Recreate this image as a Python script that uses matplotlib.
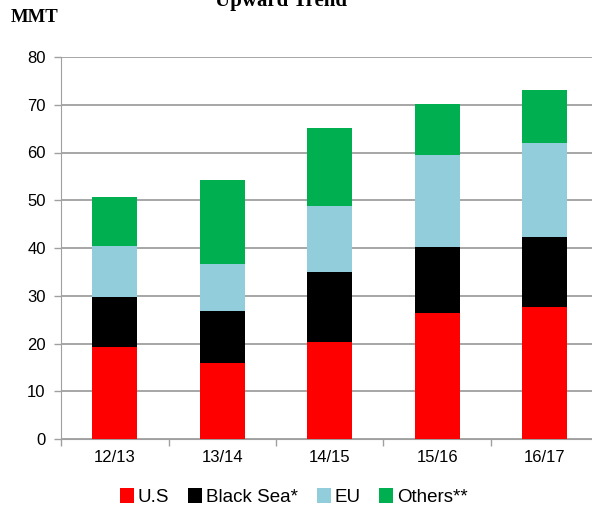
import matplotlib
matplotlib.use('Agg')
import matplotlib.pyplot as plt
import numpy as np

years = ['12/13', '13/14', '14/15', '15/16', '16/17']
us = [19.3, 15.9, 20.3, 26.4, 27.6]
black_sea = [10.4, 10.9, 14.7, 13.8, 14.7]
eu = [10.7, 9.8, 13.8, 19.3, 19.7]
others = [10.3, 17.6, 16.3, 10.7, 11.1]

series = [('U.S', us, '#ff0000'),
          ('Black Sea*', black_sea, '#000000'),
          ('EU', eu, '#92cddc'),
          ('Others**', others, '#00b050')]


def main():
    plt.rcParams['font.family'] = ['Liberation Sans', 'DejaVu Sans']
    fig = plt.figure(figsize=(5.92, 5.09), dpi=100)
    ax = fig.add_axes([61 / 592, 70 / 509, 537.5 / 592, 382 / 509])

    x = np.arange(len(years))
    bottom = np.zeros(len(years))
    for name, vals, color in series:
        ax.bar(x, vals, 0.42, bottom=bottom, color=color, label=name, zorder=3)
        bottom += np.array(vals)

    ax.set_xlim(-0.5, len(years) - 0.5)
    ax.set_ylim(0, 80)
    ax.set_yticks(range(0, 81, 10))
    ax.set_xticks(x)
    ax.set_xticklabels(years)
    ax.set_xticks(np.arange(-0.5, len(years)), minor=True)
    ax.tick_params(axis='x', which='major', length=0, labelsize=12, pad=8)
    ax.tick_params(axis='x', which='minor', length=5, color='#a0a0a0', width=1)
    ax.tick_params(axis='y', length=5, color='#a0a0a0', width=1, labelsize=12, pad=6)

    ax.grid(axis='y', color='#a6a6a6', linewidth=1.4, zorder=0)
    for side in ['top', 'right']:
        ax.spines[side].set_visible(False)
    ax.spines['left'].set_color('#a0a0a0')
    ax.spines['bottom'].set_color('#a0a0a0')

    # title is partly cut off at the top, as in the source slide
    fig.text(281 / 592, 1 - 1 / 509, 'Upward Trend', ha='center', va='center',
             fontsize=15, fontweight='bold', family='Liberation Serif')
    fig.text(11 / 592, 1 - 18 / 509, 'MMT', ha='left', va='center',
             fontsize=13.5, fontweight='bold', family='Liberation Serif')

    fig.legend(loc='center', bbox_to_anchor=(294 / 592, 1 - 497 / 509), ncol=4,
               frameon=False, fontsize=13.5, handlelength=0.75, handleheight=0.8,
               handletextpad=0.2, columnspacing=1.0)

    fig.savefig('out.png', dpi=100)


main()
